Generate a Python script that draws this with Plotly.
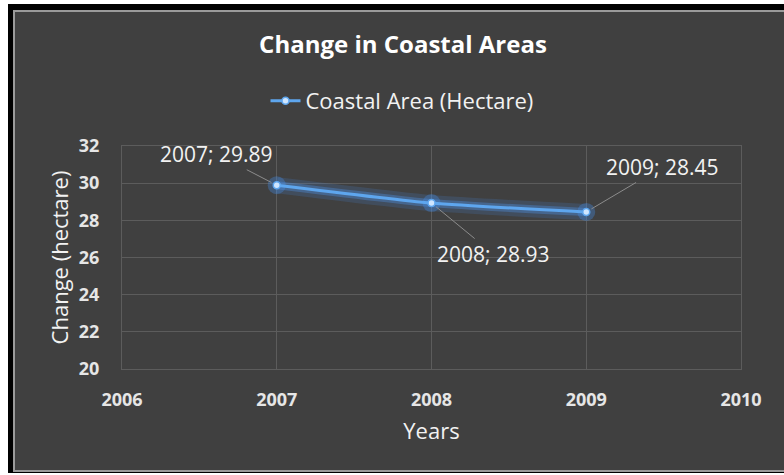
import plotly.graph_objects as go

years = [2007, 2008, 2009]
area = [29.89, 28.93, 28.45]
label_text = ["2007; 29.89", "2008; 28.93", "2009; 28.45"]
label_dx = [-60, 62, 76]
label_dy = [-31, 51, -45]
series_name = "Coastal Area (Hectare)"

W, H = 784, 475
L, R, T, B = 122, 741, 146, 369  # plot area pixel box


def px_x(p):
    return (p - L) / (R - L)


def px_y(p):
    return (B - p) / (B - T)


fig = go.Figure()

# glow layers
fig.add_trace(go.Scatter(x=years, y=area, mode="lines", showlegend=False, hoverinfo="skip",
                         line=dict(color="rgba(70,140,230,0.18)", width=16, shape="spline", smoothing=0.6)))
fig.add_trace(go.Scatter(x=years, y=area, mode="lines", showlegend=False, hoverinfo="skip",
                         line=dict(color="rgba(80,150,235,0.35)", width=8, shape="spline", smoothing=0.6)))
fig.add_trace(go.Scatter(x=years, y=area, mode="markers", showlegend=False, hoverinfo="skip",
                         marker=dict(color="rgba(70,140,230,0.35)", size=18)))
# main line
fig.add_trace(go.Scatter(x=years, y=area, mode="lines+markers", name=series_name,
                         line=dict(color="#5ea6ee", width=3, shape="spline", smoothing=0.6),
                         marker=dict(color="#cfe6ff", size=7, line=dict(color="#5ea6ee", width=1.5))))

for x, y, t, dx, dy in zip(years, area, label_text, label_dx, label_dy):
    fig.add_annotation(x=x, y=y, text=t, showarrow=True, ax=dx, ay=dy, axref="pixel", ayref="pixel",
                       arrowhead=0, arrowwidth=1, arrowcolor="#8c8c8c", standoff=6,
                       font=dict(family="Open Sans", size=21, color="#f2f2f2"))

# frame: white page, black border, gray panel
fig.add_shape(type="rect", xref="paper", yref="paper", layer="below",
              x0=px_x(8), x1=px_x(800), y0=px_y(473), y1=px_y(4),
              fillcolor="#000000", line=dict(width=0))
fig.add_shape(type="rect", xref="paper", yref="paper", layer="below",
              x0=px_x(14), x1=px_x(800), y0=px_y(471), y1=px_y(11),
              fillcolor="#404040", line=dict(color="#9a9a9a", width=2))

axis_font = dict(family="Open Sans", size=18, color="#e6e6e6", weight="bold")
fig.update_layout(
    width=W, height=H,
    margin=dict(l=L, r=W - R, t=T, b=H - B),
    paper_bgcolor="#ffffff", plot_bgcolor="rgba(0,0,0,0)",
    title=dict(text="<b>Change in Coastal Areas</b>", x=403 / W, xref="container", xanchor="center",
               y=1 - 45 / H, yref="container", yanchor="middle",
               font=dict(family="Open Sans", size=24, color="#ffffff")),
    legend=dict(orientation="h", x=402 / W, xref="container", xanchor="center",
                y=1 - 101 / H, yref="container", yanchor="middle",
                font=dict(family="Open Sans", size=22, color="#f2f2f2"), bgcolor="rgba(0,0,0,0)"),
    font=dict(family="Open Sans", color="#e6e6e6"),
    showlegend=True,
)
fig.update_xaxes(range=[2006, 2010], dtick=1, tick0=2006, showgrid=True, gridcolor="#5c5c5c", gridwidth=1,
                 showline=True, linecolor="#5c5c5c", mirror=True, zeroline=False,
                 tickfont=axis_font, ticks="", ticklabelstandoff=14,
                 title=dict(text="Years", font=dict(family="Open Sans", size=22, color="#f2f2f2"), standoff=14))
fig.update_yaxes(range=[20, 32], dtick=2, tick0=20, showgrid=True, gridcolor="#5c5c5c", gridwidth=1,
                 showline=True, linecolor="#5c5c5c", mirror=True, zeroline=False,
                 tickfont=axis_font, ticks="", ticklabelstandoff=18,
                 title=dict(text="Change (hectare)", font=dict(family="Open Sans", size=22, color="#f2f2f2"), standoff=4))

fig.write_html("out.html", config={"displayModeBar": False},
               post_script="document.body.style.margin='0';")
